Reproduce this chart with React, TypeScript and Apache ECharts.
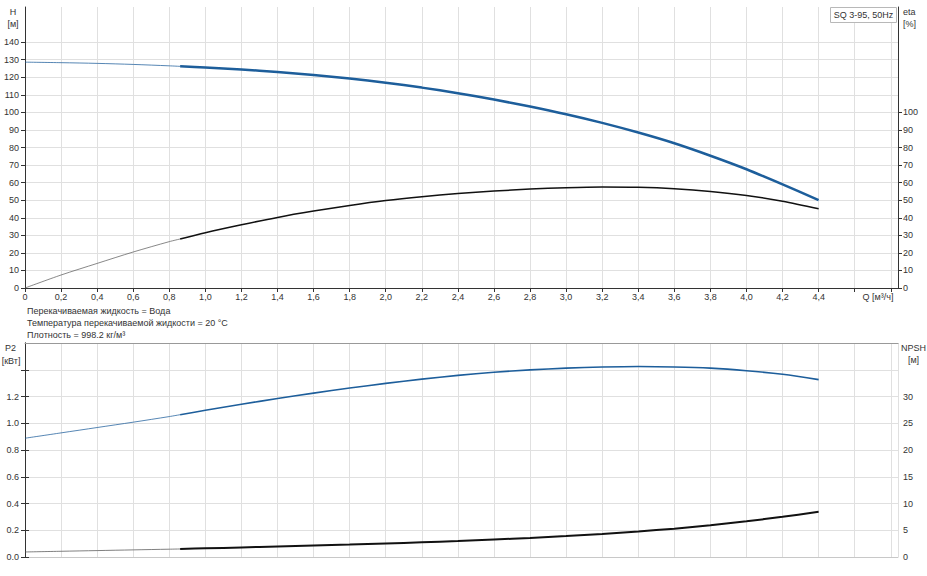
import React, { useEffect, useRef } from "react";
import * as echarts from "echarts";

// ---- data ----
const qLow = [0, 0.2, 0.4, 0.6, 0.8, 0.86];
const qMain = [0.86, 1.0, 1.2, 1.4, 1.6, 1.8, 2.0, 2.2, 2.4, 2.6, 2.8, 3.0, 3.2, 3.4, 3.6, 3.8, 4.0, 4.2, 4.4];

const headLow = [128.6, 128.3, 127.9, 127.3, 126.5, 126.2];
const headMain = [126.2, 125.5, 124.4, 123.0, 121.3, 119.3, 116.9, 114.1, 110.9, 107.3, 103.3, 98.9, 94.0, 88.5, 82.4, 75.3, 67.6, 59.0, 50.0];

const etaLow = [0, 7.4, 14.0, 20.5, 26.4, 27.9];
const etaMain = [27.9, 31.5, 36.0, 40.2, 43.8, 47.0, 49.8, 52.0, 53.8, 55.2, 56.3, 57.1, 57.5, 57.3, 56.5, 55.0, 52.7, 49.4, 45.1];

const p2Low = [0.888, 0.928, 0.968, 1.008, 1.05, 1.064];
const p2Main = [1.064, 1.097, 1.142, 1.185, 1.225, 1.263, 1.298, 1.33, 1.358, 1.381, 1.399, 1.412, 1.42, 1.424, 1.421, 1.412, 1.393, 1.366, 1.326];

const npshLow = [0.94, 1.07, 1.2, 1.33, 1.46, 1.5];
const npshMain = [1.5, 1.62, 1.79, 1.96, 2.14, 2.33, 2.53, 2.75, 2.99, 3.26, 3.57, 3.92, 4.32, 4.78, 5.3, 5.95, 6.68, 7.52, 8.44];

const qTicks = [0, 0.2, 0.4, 0.6, 0.8, 1.0, 1.2, 1.4, 1.6, 1.8, 2.0, 2.2, 2.4, 2.6, 2.8, 3.0, 3.2, 3.4, 3.6, 3.8, 4.0, 4.2, 4.4, 4.6, 4.8];
const qLabels = [0, 0.2, 0.4, 0.6, 0.8, 1.0, 1.2, 1.4, 1.6, 1.8, 2.0, 2.2, 2.4, 2.6, 2.8, 3.0, 3.2, 3.4, 3.6, 3.8, 4.0, 4.2, 4.4];
const hTicks = [0, 10, 20, 30, 40, 50, 60, 70, 80, 90, 100, 110, 120, 130, 140];
const etaTicks = [0, 10, 20, 30, 40, 50, 60, 70, 80, 90, 100];
const p2Ticks = [0, 0.2, 0.4, 0.6, 0.8, 1.0, 1.2, 1.4];
const p2Labels = [0, 0.2, 0.4, 0.6, 0.8, 1.0, 1.2];
const npshTicks = [0, 5, 10, 15, 20, 25, 30, 35];
const npshLabels = [0, 5, 10, 15, 20, 25, 30];

const infoLines = [
  "Перекачиваемая жидкость = Вода",
  "Температура перекачиваемой жидкости = 20 °C",
  "Плотность = 998.2 кг/м³",
];
const legendText = "SQ 3-95, 50Hz";

const zip = (xs: number[], ys: number[]) => xs.map((x, i) => [x, ys[i]]);

const FONT = "Liberation Sans, Arial, sans-serif";
const FS = 9;
const BLUE = "#1d5e9b";
const BLACK = "#111111";
const GRID = "#e0e0e0";
const AXIS = "#333333";

export default function App() {
  const ref = useRef<HTMLDivElement>(null);
  useEffect(() => {
    if (!ref.current) return;
    const chart = echarts.init(ref.current, undefined, { renderer: "svg" });
    const label = (extra: any) => ({ fontSize: FS, color: AXIS, fontFamily: FONT, ...extra });
    const txt = (text: string, x: number, y: number, align = "center", size = FS) => ({
      type: "text",
      x,
      y,
      style: {
        text,
        fontSize: size,
        fontFamily: FONT,
        fill: AXIS,
        align,
        verticalAlign: "middle",
        textAlign: align,
        textVerticalAlign: "middle",
      },
    });
    const line = (name: string, xi: number, yi: number, data: number[][], color: string, width: number, opacity = 1, z = 2) => ({
      name,
      type: "line",
      xAxisIndex: xi,
      yAxisIndex: yi,
      data,
      symbol: "none",
      smooth: 0.3,
      z,
      lineStyle: { color, width, opacity },
      silent: true,
    });
    const option: any = {
      animation: false,
      backgroundColor: "#ffffff",
      grid: [
        { left: 25, right: 29, top: 7, height: 281 },
        { left: 25, right: 29, top: 343, height: 214 },
      ],
      xAxis: [
        {
          gridIndex: 0,
          type: "value",
          min: 0,
          max: 4.84,
          interval: 0.2,
          axisLine: { show: true, onZero: false, lineStyle: { color: AXIS } },
          axisTick: { show: true, length: 4, customValues: qTicks, lineStyle: { color: AXIS } },
          axisLabel: label({
            margin: 4,
            customValues: qLabels,
            formatter: (v: number) => (v > 4.41 ? "" : v === 0 ? "0" : v.toFixed(1).replace(".", ",")),
          }),
          splitLine: { show: true, lineStyle: { color: GRID } },
        },
        {
          gridIndex: 1,
          type: "value",
          min: 0,
          max: 4.84,
          interval: 0.2,
          axisLine: { show: true, onZero: false, lineStyle: { color: "#c8c8c8" } },
          axisTick: { show: false },
          axisLabel: { show: false },
          splitLine: { show: true, lineStyle: { color: GRID } },
        },
        {
          gridIndex: 1,
          type: "value",
          position: "top",
          min: 0,
          max: 4.84,
          axisLine: { show: true, onZero: false, lineStyle: { color: "#999999" } },
          axisTick: { show: false },
          axisLabel: { show: false },
          splitLine: { show: false },
        },
      ],
      yAxis: [
        {
          gridIndex: 0,
          type: "value",
          position: "left",
          min: 0,
          max: 160,
          interval: 10,
          axisLine: { show: true, lineStyle: { color: AXIS } },
          axisTick: { show: true, length: 4, customValues: hTicks, lineStyle: { color: AXIS } },
          axisLabel: label({ margin: 6, customValues: hTicks, formatter: (v: number) => (v > 141 ? "" : String(v)) }),
          splitLine: { show: true, lineStyle: { color: GRID } },
        },
        {
          gridIndex: 0,
          type: "value",
          position: "right",
          min: 0,
          max: 160,
          interval: 10,
          axisLine: { show: true, lineStyle: { color: AXIS } },
          axisTick: { show: true, length: 4, customValues: etaTicks, lineStyle: { color: AXIS } },
          axisLabel: label({ margin: 5, customValues: etaTicks, formatter: (v: number) => (v > 101 ? "" : String(v)) }),
          splitLine: { show: false },
        },
        {
          gridIndex: 1,
          type: "value",
          position: "left",
          min: 0,
          max: 1.6,
          interval: 0.2,
          axisLine: { show: true, lineStyle: { color: AXIS } },
          axisTick: { show: true, length: 4, customValues: p2Ticks, lineStyle: { color: AXIS } },
          axisLabel: label({ margin: 6, customValues: p2Labels, formatter: (v: number) => (v > 1.21 ? "" : v.toFixed(1)) }),
          splitLine: { show: true, lineStyle: { color: GRID } },
        },
        {
          gridIndex: 1,
          type: "value",
          position: "right",
          min: 0,
          max: 40,
          interval: 5,
          axisLine: { show: true, lineStyle: { color: AXIS } },
          axisTick: { show: true, length: 4, customValues: npshTicks, lineStyle: { color: AXIS } },
          axisLabel: label({ margin: 5, customValues: npshLabels, formatter: (v: number) => (v > 31 ? "" : String(v)) }),
          splitLine: { show: false },
        },
      ],
      series: [
        line("H low", 0, 0, zip(qLow, headLow), BLUE, 1, 0.75, 3),
        line("H", 0, 0, zip(qMain, headMain), BLUE, 2.5, 1, 4),
        line("eta low", 0, 1, zip(qLow, etaLow), "#555", 1, 0.7, 3),
        line("eta", 0, 1, zip(qMain, etaMain), BLACK, 1.5, 1, 4),
        line("P2 low", 1, 2, zip(qLow, p2Low), BLUE, 1, 0.75, 3),
        line("P2", 1, 2, zip(qMain, p2Main), BLUE, 1.6, 1, 4),
        line("NPSH low", 1, 3, zip(qLow, npshLow), "#555", 1, 0.75, 3),
        line("NPSH", 1, 3, zip(qMain, npshMain), BLACK, 2, 1, 4),
      ],
      graphic: [
        txt("H", 13, 12),
        txt("[м]", 13, 23.5),
        txt("eta", 903, 12, "left"),
        txt("[%]", 903, 23.5, "left"),
        txt("P2", 10.5, 348),
        txt("[кВт]", 11, 361),
        txt("NPSH", 926, 348, "right"),
        txt("[м]", 913.5, 359.5),
        txt("Q [м³/ч]", 878, 297),
        txt(infoLines[0], 27, 311, "left"),
        txt(infoLines[1], 27, 323, "left"),
        txt(infoLines[2], 27, 335, "left"),
        {
          type: "rect",
          shape: { x: 830.5, y: 7.5, width: 66, height: 15 },
          style: { fill: "#ffffff", stroke: "#b8b8b8", lineWidth: 1 },
          z: 10,
        },
        { ...txt(legendText, 863.5, 15), z: 11 },
      ],
    };
    chart.setOption(option);
    return () => chart.dispose();
  }, []);
  return (
    <div
      ref={ref}
      style={{ position: "absolute", left: 0, top: 0, width: 927, height: 576, background: "#fff" }}
    />
  );
}
